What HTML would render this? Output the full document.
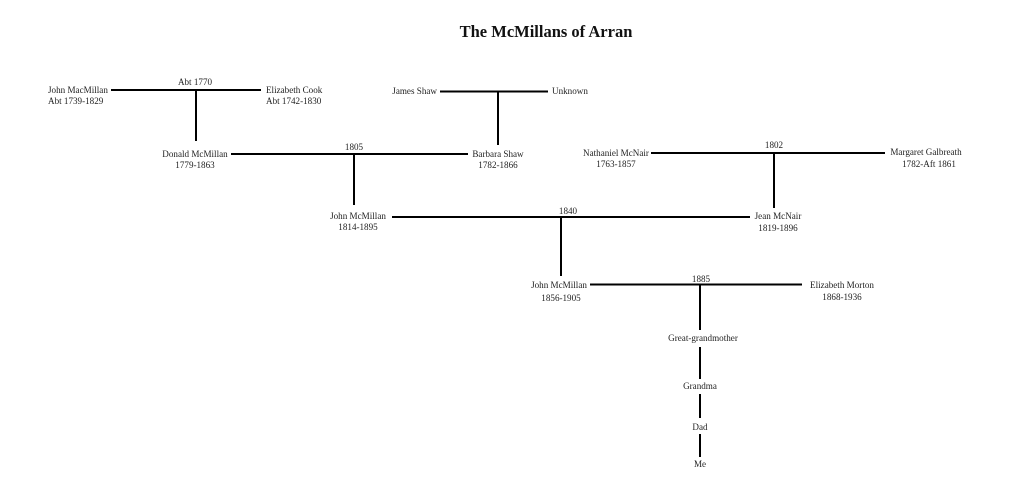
<!DOCTYPE html>
<html><head><meta charset="utf-8"><style>
html,body{margin:0;padding:0;background:#fff;width:1024px;height:495px;overflow:hidden}
svg{display:block}
text{font-family:"Liberation Serif",serif;font-size:9.1px;fill:#222}
.t{font-size:16.5px;font-weight:bold;fill:#111}
line{stroke:#000;stroke-width:2}
</style></head><body>
<svg width="1024" height="495" viewBox="0 0 1024 495">
<text class="t" x="546" y="37" text-anchor="middle">The McMillans of Arran</text>

<text x="48" y="93">John MacMillan</text>
<text x="48" y="104">Abt 1739-1829</text>
<line x1="111" y1="90" x2="261" y2="90"/>
<text x="195" y="85" text-anchor="middle">Abt 1770</text>
<line x1="196" y1="90" x2="196" y2="141"/>
<text x="266" y="93">Elizabeth Cook</text>
<text x="266" y="104">Abt 1742-1830</text>

<text x="437" y="94" text-anchor="end">James Shaw</text>
<line x1="440" y1="91.5" x2="548" y2="91.5"/>
<line x1="498" y1="92" x2="498" y2="145"/>
<text x="552" y="94">Unknown</text>

<text x="195" y="157" text-anchor="middle">Donald McMillan</text>
<text x="195" y="168" text-anchor="middle">1779-1863</text>
<line x1="231" y1="154" x2="468" y2="154"/>
<text x="354" y="150" text-anchor="middle">1805</text>
<line x1="354" y1="154" x2="354" y2="205"/>
<text x="498" y="157" text-anchor="middle">Barbara Shaw</text>
<text x="498" y="168" text-anchor="middle">1782-1866</text>

<text x="616" y="156" text-anchor="middle">Nathaniel McNair</text>
<text x="616" y="167" text-anchor="middle">1763-1857</text>
<line x1="651" y1="153" x2="885" y2="153"/>
<text x="774" y="148" text-anchor="middle">1802</text>
<line x1="774" y1="153" x2="774" y2="208"/>
<text x="926" y="155" text-anchor="middle">Margaret Galbreath</text>
<text x="929" y="167" text-anchor="middle">1782-Aft 1861</text>

<text x="358" y="219" text-anchor="middle">John McMillan</text>
<text x="358" y="230" text-anchor="middle">1814-1895</text>
<line x1="392" y1="217" x2="750" y2="217"/>
<text x="568" y="214" text-anchor="middle">1840</text>
<line x1="561" y1="217" x2="561" y2="276"/>
<text x="778" y="219" text-anchor="middle">Jean McNair</text>
<text x="778" y="231" text-anchor="middle">1819-1896</text>

<text x="559" y="288" text-anchor="middle">John McMillan</text>
<text x="561" y="301" text-anchor="middle">1856-1905</text>
<line x1="590" y1="284.5" x2="802" y2="284.5"/>
<text x="701" y="282" text-anchor="middle">1885</text>
<line x1="700" y1="285" x2="700" y2="330"/>
<text x="842" y="288" text-anchor="middle">Elizabeth Morton</text>
<text x="842" y="300" text-anchor="middle">1868-1936</text>

<text x="703" y="341" text-anchor="middle">Great-grandmother</text>
<line x1="700" y1="347" x2="700" y2="379"/>
<text x="700" y="389" text-anchor="middle">Grandma</text>
<line x1="700" y1="394" x2="700" y2="418"/>
<text x="700" y="430" text-anchor="middle">Dad</text>
<line x1="700" y1="434" x2="700" y2="457"/>
<text x="700" y="467" text-anchor="middle">Me</text>
</svg>
</body></html>
